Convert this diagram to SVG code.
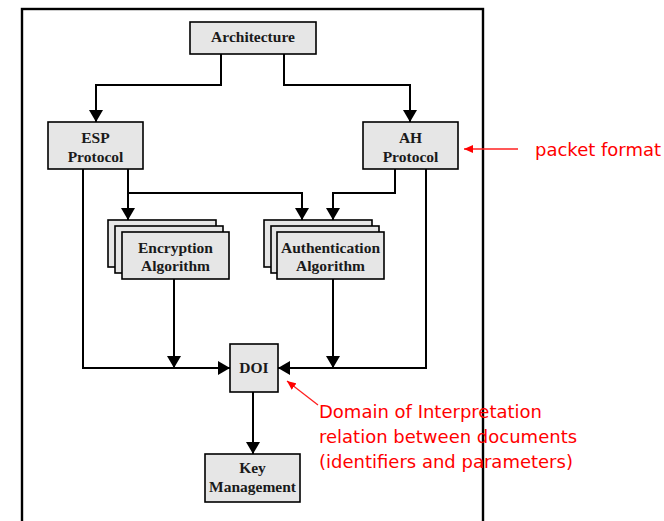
<svg xmlns="http://www.w3.org/2000/svg" width="664" height="521" viewBox="0 0 664 521">
<style>
.box{fill:#e6e6e6;stroke:#000;stroke-width:1.6}
.lbl{font-family:"Liberation Serif","Times New Roman",serif;font-weight:bold;font-size:15.5px;fill:#1a1a1a;text-anchor:middle}
.con{fill:none;stroke:#000;stroke-width:2}
.red{fill:none;stroke:#ff2020;stroke-width:1.3}
.note{font-family:"DejaVu Sans",Verdana,sans-serif;font-size:18px;fill:#ff0000}
</style>
<defs>
<marker id="ah" markerUnits="userSpaceOnUse" markerWidth="14" markerHeight="14" refX="12" refY="7" orient="auto">
<path d="M0,0 L12,7 L0,14 z" fill="#000"/>
</marker>
<marker id="rh" markerUnits="userSpaceOnUse" markerWidth="10" markerHeight="8" refX="9" refY="4" orient="auto">
<path d="M0,0 L9,4 L0,8 z" fill="#ff0000"/>
</marker>
</defs>
<rect width="664" height="521" fill="#fff"/>
<rect x="22" y="9" width="461" height="530" fill="none" stroke="#000" stroke-width="2.4"/>
<g id="connectors">
<path class="con" d="M221,54 V85 H96 V122" marker-end="url(#ah)"/>
<path class="con" d="M284,54 V85 H410 V122" marker-end="url(#ah)"/>
<path class="con" d="M83,169 V368 H230" marker-end="url(#ah)"/>
<path class="con" d="M128,169 V220" marker-end="url(#ah)"/>
<path class="con" d="M128,193 H302 V220" marker-end="url(#ah)"/>
<path class="con" d="M395,169 V193 H333 V220" marker-end="url(#ah)"/>
<path class="con" d="M426,169 V368 H278" marker-end="url(#ah)"/>
<path class="con" d="M174,279 V368" marker-end="url(#ah)"/>
<path class="con" d="M333,279 V368" marker-end="url(#ah)"/>
<path class="con" d="M253,392 V454" marker-end="url(#ah)"/>
</g>
<g id="architecture">
<rect class="box" x="190" y="22" width="126" height="32"/>
<text class="lbl" x="253" y="42">Architecture</text>
</g>
<g id="esp">
<rect class="box" x="48" y="122" width="95" height="47"/>
<text class="lbl" x="95.5" y="143">ESP</text>
<text class="lbl" x="95.5" y="162">Protocol</text>
</g>
<g id="ah-protocol">
<rect class="box" x="363" y="122" width="95" height="47"/>
<text class="lbl" x="410.5" y="143">AH</text>
<text class="lbl" x="410.5" y="162">Protocol</text>
</g>
<g id="encryption">
<rect class="box" x="108" y="220" width="108" height="47"/>
<rect class="box" x="115" y="226" width="108" height="47"/>
<rect class="box" x="122" y="232" width="107" height="47"/>
<text class="lbl" x="175.5" y="253">Encryption</text>
<text class="lbl" x="175.5" y="271">Algorithm</text>
</g>
<g id="authentication">
<rect class="box" x="264" y="220" width="108" height="47"/>
<rect class="box" x="271" y="226" width="108" height="47"/>
<rect class="box" x="277" y="232" width="107" height="47"/>
<text class="lbl" x="330.5" y="253">Authentication</text>
<text class="lbl" x="330.5" y="271">Algorithm</text>
</g>
<g id="doi">
<rect class="box" x="230" y="344" width="48" height="48"/>
<text class="lbl" x="254" y="373">DOI</text>
</g>
<g id="key-management">
<rect class="box" x="205" y="454" width="95" height="48"/>
<text class="lbl" x="252.5" y="473">Key</text>
<text class="lbl" x="252.5" y="492">Management</text>
</g>
<g id="annotations">
<path class="red" d="M518,149 H464" marker-end="url(#rh)"/>
<text class="note" x="535" y="156">packet format</text>
<path class="red" d="M318,405 L287,381" marker-end="url(#rh)"/>
<text class="note" x="319" y="418">Domain of Interpretation</text>
<text class="note" x="319" y="443">relation between documents</text>
<text class="note" x="319" y="468">(identifiers and parameters)</text>
</g>
</svg>
